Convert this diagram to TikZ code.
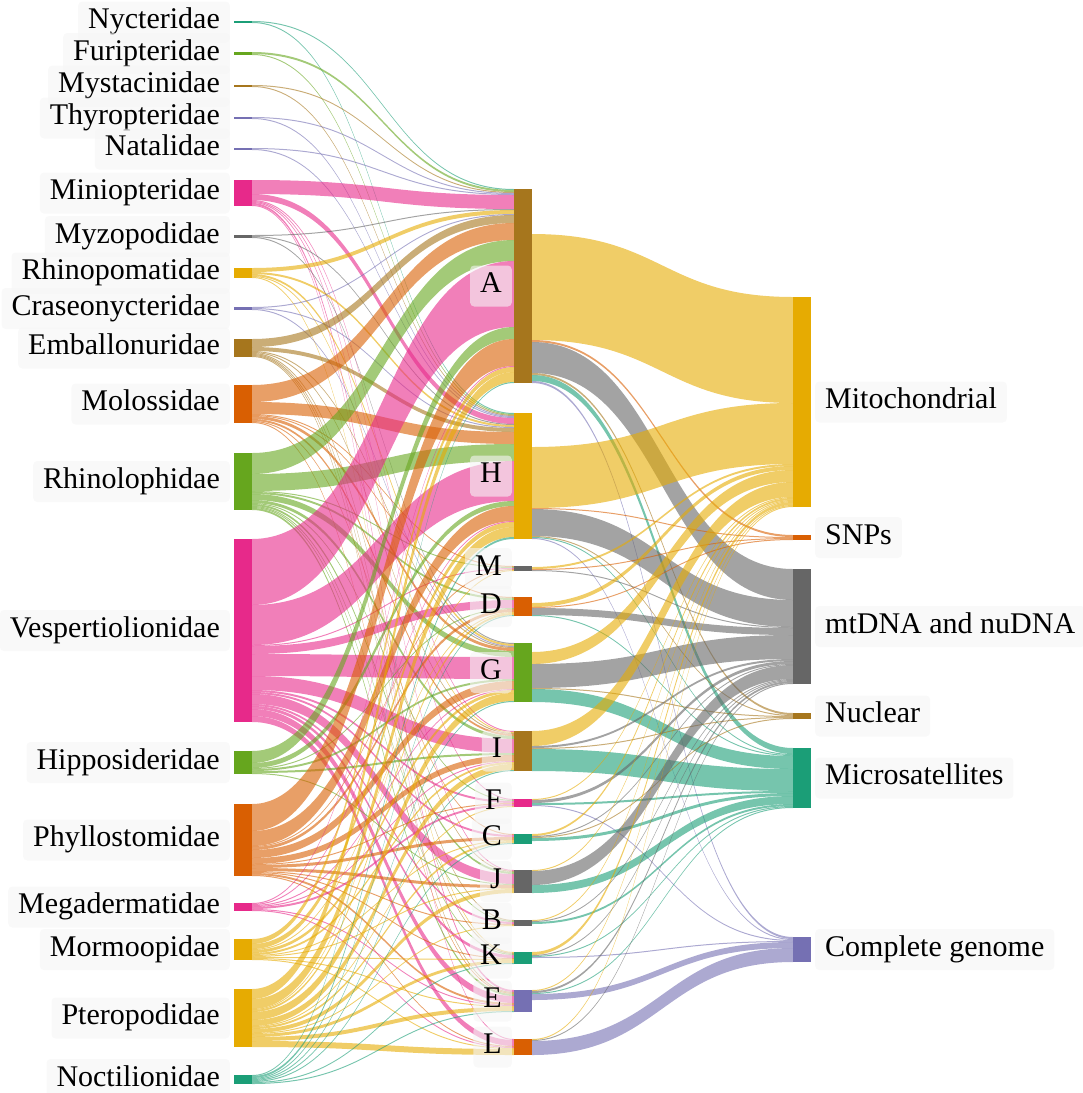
\documentclass[tikz,border=0pt]{standalone}
\usepackage{fontspec}
\newfontfamily\tnr{LiberationSerif}[Extension=.ttf,UprightFont=*-Regular]
\definecolor{cteal}{HTML}{1B9E77}
\definecolor{corange}{HTML}{D95F02}
\definecolor{cpurple}{HTML}{7570B3}
\definecolor{cpink}{HTML}{E7298A}
\definecolor{cgreen}{HTML}{66A61E}
\definecolor{cgold}{HTML}{E6AB02}
\definecolor{cbrown}{HTML}{A6761D}
\definecolor{cgray}{HTML}{666666}
\newcommand\defnd[3]{\expandafter\xdef\csname nx@#1\endcsname{#2}\expandafter\xdef\csname so@#1\endcsname{#3}\expandafter\xdef\csname to@#1\endcsname{#3}}
\newcommand\setout[2]{\expandafter\xdef\csname so@#1\endcsname{#2}}
\newcommand\lnk[4]{%
  \pgfmathsetmacro\lxa{\csname nx@#1\endcsname+18}%
  \edef\lya{\csname so@#1\endcsname}%
  \edef\lxb{\csname nx@#2\endcsname}%
  \edef\lyb{\csname to@#2\endcsname}%
  \pgfmathsetmacro\lxm{(\lxa+\lxb)/2}%
  \pgfmathsetmacro\lyaw{\lya+#3}%
  \pgfmathsetmacro\lybw{\lyb+#3}%
  \fill[fill=#4,lnkst] (\lxa,\lya) .. controls (\lxm,\lya) and (\lxm,\lyb) .. (\lxb,\lyb) -- (\lxb,\lybw) .. controls (\lxm,\lybw) and (\lxm,\lyaw) .. (\lxa,\lyaw) -- cycle;%
  \expandafter\xdef\csname so@#1\endcsname{\lyaw}%
  \expandafter\xdef\csname to@#2\endcsname{\lybw}%
}
\newcommand\src[2]{\gdef\cursrc{#1}\gdef\curcol{#2}}
\newcommand\lk[2]{\lnk{\cursrc}{#1}{#2}{\curcol}}
\newcommand\barnd[5]{\node[barst,fill=#5,minimum height=#4pt] (#1) at (#2,{#3+#4/2}) {};}
\begin{document}
\begin{tikzpicture}[x=1pt,y=-1pt,
  lnkst/.style={fill opacity=0.6},
  barst/.style={draw=none,inner sep=0pt,outer sep=0pt,minimum width=18pt},
  lbl/.style={font=\tnr\fontsize{30}{36}\selectfont,fill=black!4,fill opacity=0.6,text opacity=1,
    rounded corners=4pt,inner xsep=10pt,inner ysep=7pt,text height=20pt,text depth=7pt}]
\useasboundingbox (0,0) rectangle (1083,1093);
% left nodes
\defnd{Nyc}{234}{21}\defnd{Fur}{234}{52}\defnd{Mys}{234}{85}\defnd{Thy}{234}{117}
\defnd{Nat}{234}{148}\defnd{Min}{234}{180}\defnd{Myz}{234}{235}\defnd{Rhp}{234}{268}
\defnd{Cra}{234}{307}\defnd{Emb}{234}{339}\defnd{Mol}{234}{385}\defnd{Rhl}{234}{453}
\defnd{Ves}{234}{539}\defnd{Hip}{234}{751}\defnd{Phy}{234}{804}\defnd{Meg}{234}{903}
\defnd{Mor}{234}{939}\defnd{Pte}{234}{989}\defnd{Noc}{234}{1075}
% middle nodes
\defnd{A}{514}{189}\defnd{H}{514}{413}\defnd{M}{514}{566}\defnd{D}{514}{597}
\defnd{G}{514}{643}\defnd{I}{514}{731}\defnd{F}{514}{799}\defnd{C}{514}{834}
\defnd{J}{514}{870}\defnd{B}{514}{920}\defnd{K}{514}{952}\defnd{E}{514}{990}
\defnd{L}{514}{1039}
\setout{A}{234}\setout{H}{447}\setout{M}{567}\setout{D}{603}\setout{G}{652}
% right nodes
\defnd{Mito}{793}{297}\defnd{SNPs}{793}{535}\defnd{mtDNA}{793}{569}
\defnd{Nuc}{793}{713}\defnd{Mic}{793}{748}\defnd{CG}{793}{937}
% ---- first stage links
\src{Nyc}{cteal} \lk{A}{1}\lk{H}{1}
\src{Fur}{cgreen} \lk{A}{2}\lk{H}{1}
\src{Mys}{cbrown} \lk{A}{1}\lk{H}{1}
\src{Thy}{cpurple} \lk{A}{1}\lk{H}{1}
\src{Nat}{cpurple} \lk{A}{1}\lk{H}{1}
\src{Min}{cpink} \lk{A}{14}\lk{H}{6}\lk{I}{1}\lk{F}{1}\lk{J}{1}\lk{E}{2}\lk{L}{1}
\src{Myz}{cgray} \lk{A}{1}\lk{H}{1}\lk{G}{1}
\src{Rhp}{cgold} \lk{A}{4}\lk{H}{2}\lk{G}{2}\lk{I}{1}\lk{K}{1}
\src{Cra}{cpurple} \lk{A}{1}\lk{H}{1}\lk{G}{1}
\src{Emb}{cbrown} \lk{A}{8}\lk{H}{4}\lk{G}{1}\lk{I}{1}\lk{J}{1}\lk{B}{1}\lk{K}{1}\lk{E}{1}
\src{Mol}{corange} \lk{A}{17}\lk{H}{12}\lk{M}{1}\lk{D}{1}\lk{G}{3}\lk{I}{2}\lk{C}{1}\lk{E}{1}
\src{Rhl}{cgreen} \lk{A}{21}\lk{H}{17}\lk{M}{1}\lk{D}{2}\lk{G}{6}\lk{I}{3}\lk{F}{1}\lk{J}{2}\lk{B}{1}\lk{K}{1}\lk{E}{2}
\src{Ves}{cpink} \lk{A}{66}\lk{H}{40}\lk{M}{1}\lk{D}{8}\lk{G}{22}\lk{I}{14}\lk{F}{2}\lk{C}{2}\lk{J}{10}\lk{B}{2}\lk{K}{3}\lk{E}{7}\lk{L}{6}
\src{Hip}{cgreen} \lk{A}{12}\lk{H}{5}\lk{D}{1}\lk{G}{2}\lk{I}{2}\lk{J}{1}
\src{Phy}{corange} \lk{A}{27}\lk{H}{15}\lk{M}{1}\lk{D}{3}\lk{G}{8}\lk{I}{6}\lk{F}{1}\lk{C}{3}\lk{J}{3}\lk{B}{1}\lk{K}{1}\lk{E}{2}\lk{L}{1}
\src{Meg}{cpink} \lk{A}{1}\lk{H}{1}\lk{G}{1}\lk{I}{1}\lk{F}{2}\lk{E}{1}\lk{L}{1}
\src{Mor}{cgold} \lk{A}{5}\lk{H}{5}\lk{D}{1}\lk{G}{3}\lk{I}{2}\lk{C}{1}\lk{J}{1}\lk{K}{1}\lk{E}{1}\lk{L}{1}
\src{Pte}{cgold} \lk{A}{10}\lk{H}{10}\lk{M}{1}\lk{D}{2}\lk{G}{8}\lk{I}{6}\lk{F}{1}\lk{C}{2}\lk{J}{4}\lk{B}{1}\lk{K}{3}\lk{E}{4}\lk{L}{6}
\src{Noc}{cteal} \lk{A}{1}\lk{H}{2}\lk{D}{1}\lk{G}{1}\lk{I}{1}\lk{C}{1}\lk{K}{1}\lk{E}{1}
% ---- second stage links (coloured by target)
\lnk{A}{Mito}{106}{cgold}\lnk{A}{SNPs}{2}{corange}\lnk{A}{mtDNA}{31}{cgray}\lnk{A}{Nuc}{2}{cbrown}\lnk{A}{Mic}{6}{cteal}\lnk{A}{CG}{2}{cpurple}
\lnk{H}{Mito}{61}{cgold}\lnk{H}{SNPs}{1}{corange}\lnk{H}{mtDNA}{27}{cgray}\lnk{H}{Nuc}{1}{cbrown}\lnk{H}{Mic}{1}{cteal}\lnk{H}{CG}{1}{cpurple}
\lnk{M}{Mito}{2}{cgold}\lnk{M}{SNPs}{1}{corange}\lnk{M}{mtDNA}{1}{cgray}
\lnk{D}{Mito}{4}{cgold}\lnk{D}{SNPs}{1}{corange}\lnk{D}{mtDNA}{7}{cgray}\lnk{D}{Mic}{1}{cteal}
\lnk{G}{Mito}{12}{cgold}\lnk{G}{mtDNA}{24}{cgray}\lnk{G}{Nuc}{1}{cbrown}\lnk{G}{Mic}{13}{cteal}
\lnk{I}{Mito}{15}{cgold}\lnk{I}{mtDNA}{2}{cgray}\lnk{I}{Nuc}{1}{cbrown}\lnk{I}{Mic}{22}{cteal}
\lnk{F}{Mito}{1}{cgold}\lnk{F}{mtDNA}{3}{cgray}\lnk{F}{Mic}{2}{cteal}\lnk{F}{CG}{1}{cpurple}
\lnk{C}{Mito}{2}{cgold}\lnk{C}{mtDNA}{1}{cgray}\lnk{C}{Nuc}{1}{cbrown}\lnk{C}{Mic}{3}{cteal}
\lnk{J}{Mito}{1}{cgold}\lnk{J}{mtDNA}{14}{cgray}\lnk{J}{Mic}{8}{cteal}
\lnk{B}{Mito}{1}{cgold}\lnk{B}{mtDNA}{1}{cgray}\lnk{B}{Mic}{2}{cteal}
\lnk{K}{Mito}{3}{cgold}\lnk{K}{mtDNA}{1}{cgray}\lnk{K}{Mic}{1}{cteal}\lnk{K}{CG}{1}{cpurple}
\lnk{E}{Mito}{1}{cgold}\lnk{E}{mtDNA}{2}{cgray}\lnk{E}{Mic}{1}{cteal}\lnk{E}{CG}{6}{cpurple}
\lnk{L}{Mito}{1}{cgold}\lnk{L}{mtDNA}{1}{cgray}\lnk{L}{CG}{14}{cpurple}
% ---- bars
\barnd{Nyc}{243}{21}{2}{cteal}\barnd{Fur}{243}{52}{3}{cgreen}\barnd{Mys}{243}{85}{2}{cbrown}
\barnd{Thy}{243}{117}{2}{cpurple}\barnd{Nat}{243}{148}{2}{cpurple}\barnd{Min}{243}{180}{26}{cpink}
\barnd{Myz}{243}{235}{3}{cgray}\barnd{Rhp}{243}{268}{10}{cgold}\barnd{Cra}{243}{307}{3}{cpurple}
\barnd{Emb}{243}{339}{18}{cbrown}\barnd{Mol}{243}{385}{38}{corange}\barnd{Rhl}{243}{453}{57}{cgreen}
\barnd{Ves}{243}{539}{183}{cpink}\barnd{Hip}{243}{751}{23}{cgreen}\barnd{Phy}{243}{804}{72}{corange}
\barnd{Meg}{243}{903}{8}{cpink}\barnd{Mor}{243}{939}{21}{cgold}\barnd{Pte}{243}{989}{58}{cgold}
\barnd{Noc}{243}{1075}{9}{cteal}
\barnd{A}{523}{189}{194}{cbrown}\barnd{H}{523}{413}{126}{cgold}\barnd{M}{523}{566}{5}{cgray}
\barnd{D}{523}{597}{19}{corange}\barnd{G}{523}{643}{59}{cgreen}\barnd{I}{523}{731}{40}{cbrown}
\barnd{F}{523}{799}{8}{cpink}\barnd{C}{523}{834}{10}{cteal}\barnd{J}{523}{870}{23}{cgray}
\barnd{B}{523}{920}{6}{cgray}\barnd{K}{523}{952}{12}{cteal}\barnd{E}{523}{990}{22}{cpurple}
\barnd{L}{523}{1039}{16}{corange}
\barnd{Mito}{802}{297}{210}{cgold}\barnd{SNPs}{802}{535}{5}{corange}\barnd{mtDNA}{802}{569}{115}{cgray}
\barnd{Nuc}{802}{713}{6}{cbrown}\barnd{Mic}{802}{748}{60}{cteal}\barnd{CG}{802}{937}{25}{cpurple}
% ---- labels
\foreach \n/\t in {Nyc/Nycteridae,Fur/Furipteridae,Mys/Mystacinidae,Thy/Thyropteridae,Nat/Natalidae,
  Min/Miniopteridae,Myz/Myzopodidae,Rhp/Rhinopomatidae,Cra/Craseonycteridae,Emb/Emballonuridae,
  Mol/Molossidae,Rhl/Rhinolophidae,Ves/Vespertiolionidae,Hip/Hipposideridae,Phy/Phyllostomidae,
  Meg/Megadermatidae,Mor/Mormoopidae,Pte/Pteropodidae,Noc/Noctilionidae}
  \node[lbl,anchor=east] (lab\n) at ([xshift=-4pt]\n.west) {\t};
\foreach \n in {A,H,M,D,G,I,F,C,J,B,K,E,L}
  \node[lbl,anchor=east] (lab\n) at ([xshift=-2pt]\n.west) {\n};
\foreach \n/\t in {Mito/Mitochondrial,SNPs/SNPs,mtDNA/mtDNA and nuDNA,Nuc/Nuclear,Mic/Microsatellites,CG/Complete genome}
  \node[lbl,anchor=west] (lab\n) at ([xshift=4pt]\n.east) {\t};
\end{tikzpicture}
\end{document}
